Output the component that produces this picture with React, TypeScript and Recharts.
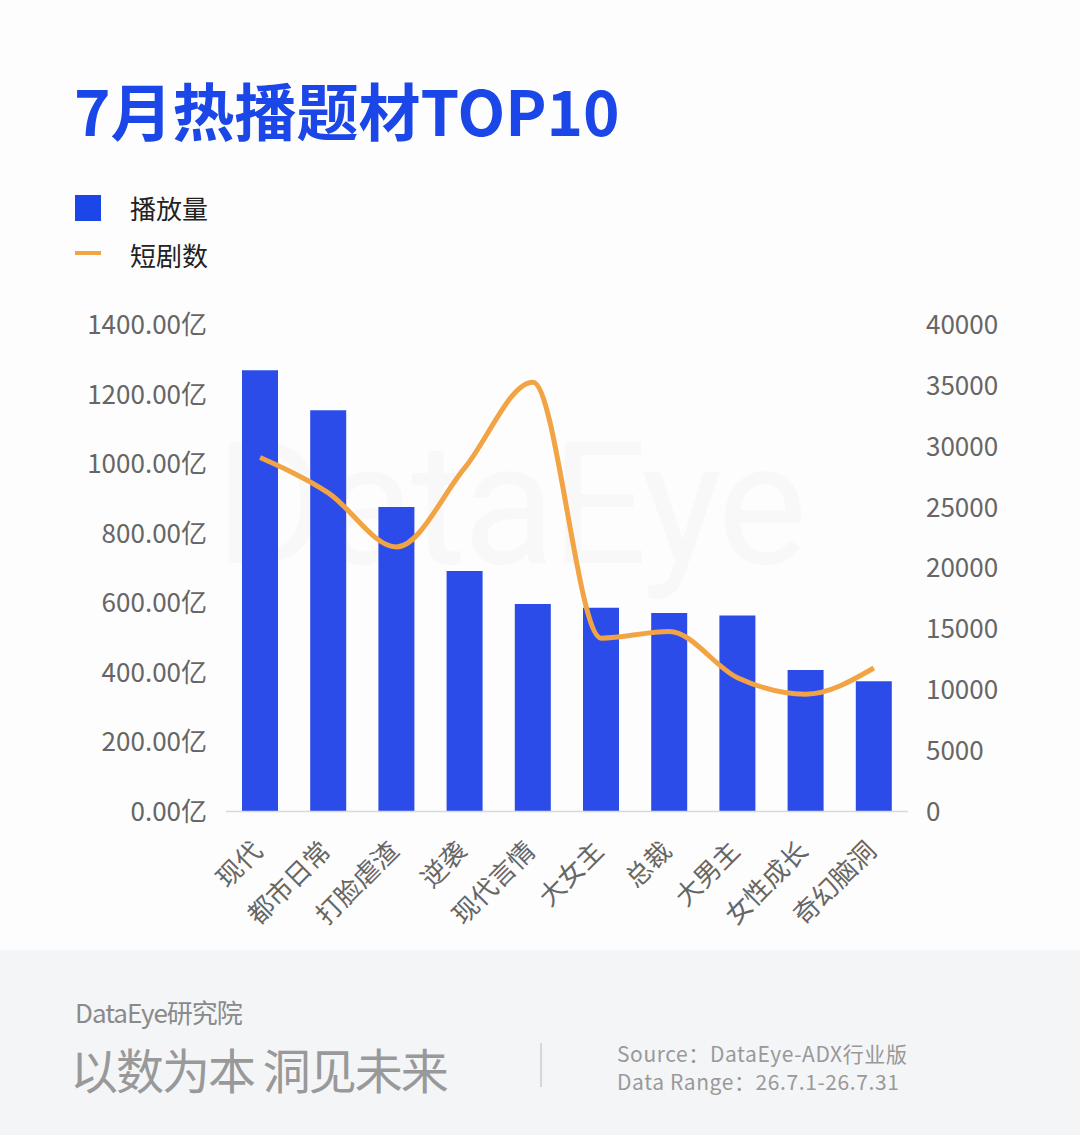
import { ComposedChart, Bar, Line, XAxis, YAxis } from "recharts";

const categories = ["现代", "都市日常", "打脸虐渣", "逆袭", "现代言情", "大女主", "总裁", "大男主", "女性成长", "奇幻脑洞"];
const playVolume = [1270, 1155, 876, 692, 597, 586, 571, 564, 407, 375];
const dramaCount = [29100, 26200, 21750, 28250, 35300, 14250, 14800, 11000, 9650, 11800];
const leftTicks = [0, 200, 400, 600, 800, 1000, 1200, 1400];
const rightTicks = [0, 5000, 10000, 15000, 20000, 25000, 30000, 35000, 40000];

const data = categories.map((name, i) => ({
  name,
  play: playVolume[i],
  count: dramaCount[i],
}));

const BLUE = "#2b4ce8";
const ORANGE = "#f2a444";
const CJK = '"Noto Sans CJK SC", "Noto Sans", sans-serif';

function CategoryTick({ x, y, payload }: any) {
  return (
    <g transform={`translate(${x + 4},${y + 33})`}>
      <text
        transform="rotate(-45)"
        textAnchor="end"
        fontSize={26}
        fill="#666"
        fontFamily={CJK}
      >
        {payload.value}
      </text>
    </g>
  );
}

export default function App() {
  return (
    <div
      style={{
        position: "absolute",
        left: 0,
        top: 0,
        width: 1080,
        height: 1135,
        background: "#fdfdfd",
        overflow: "hidden",
        fontFamily: CJK,
      }}
    >
      {/* faint watermark */}
      <div
        style={{
          position: "absolute",
          left: 215,
          top: 405,
          fontSize: 170,
          fontFamily: "Roboto, sans-serif",
          color: "#f8f8f8",
          letterSpacing: -4,
        }}
      >
        DataEye
      </div>

      <div
        style={{
          position: "absolute",
          left: 74,
          top: 72,
          fontSize: 62,
          fontWeight: 700,
          color: "#1b46e8",
          lineHeight: 1.2,
          whiteSpace: "nowrap",
        }}
      >
        7月热播题材TOP10
      </div>

      <div style={{ position: "absolute", left: 75, top: 195, width: 26, height: 26, background: "#1b46e8" }} />
      <div style={{ position: "absolute", left: 130, top: 190, fontSize: 26, color: "#222", lineHeight: "36px" }}>播放量</div>
      <div style={{ position: "absolute", left: 75, top: 251, width: 26, height: 4, background: ORANGE }} />
      <div style={{ position: "absolute", left: 130, top: 237, fontSize: 26, color: "#222", lineHeight: "36px" }}>短剧数</div>

      <div style={{ position: "absolute", left: 0, top: 0 }}>
        <ComposedChart
          width={1080}
          height={950}
          data={data}
          margin={{ top: 325, right: 0, bottom: 0, left: 0 }}
          barSize={36}
        >
          <XAxis
            dataKey="name"
            interval={0}
            height={138.5}
            tick={<CategoryTick />}
            tickLine={false}
            axisLine={{ stroke: "#d9d9d9", strokeWidth: 1.5 }}
          />
          <YAxis
            yAxisId="play"
            orientation="left"
            width={226}
            domain={[0, 1400]}
            ticks={leftTicks}
            tickFormatter={(v: number) => `${v.toFixed(2)}亿`}
            tick={{ fontSize: 26, fill: "#666", fontFamily: CJK }}
            tickMargin={13}
            axisLine={false}
            tickLine={false}
          />
          <YAxis
            yAxisId="count"
            orientation="right"
            width={172}
            domain={[0, 40000]}
            ticks={rightTicks}
            tick={{ fontSize: 26, fill: "#666", fontFamily: CJK }}
            tickMargin={12}
            axisLine={false}
            tickLine={false}
          />
          <Bar yAxisId="play" dataKey="play" fill={BLUE} isAnimationActive={false} />
          <Line
            yAxisId="count"
            type="monotone"
            dataKey="count"
            stroke={ORANGE}
            strokeWidth={5}
            dot={false}
            activeDot={false}
            isAnimationActive={false}
          />
        </ComposedChart>
      </div>

      <div
        style={{
          position: "absolute",
          left: 0,
          top: 950,
          width: 1080,
          height: 185,
          background: "#f4f5f7",
        }}
      >
        <div style={{ position: "absolute", left: 75, top: 44, fontSize: 26, color: "#8a8a8a", lineHeight: "36px", letterSpacing: -1 }}>
          DataEye研究院
        </div>
        <div style={{ position: "absolute", left: 70, top: 88, fontSize: 48, color: "#999", lineHeight: "60px", letterSpacing: -2, whiteSpace: "nowrap" }}>
          以数为本 洞见未来
        </div>
        <div style={{ position: "absolute", left: 540, top: 93, width: 1.5, height: 44, background: "#d6d6d6" }} />
        <div style={{ position: "absolute", left: 617, top: 91, fontSize: 21, color: "#999", lineHeight: "24px", letterSpacing: 0.6, whiteSpace: "nowrap" }}>
          Source：DataEye-ADX行业版
        </div>
        <div style={{ position: "absolute", left: 617, top: 119, fontSize: 21, color: "#999", lineHeight: "24px", letterSpacing: 0.6, whiteSpace: "nowrap" }}>
          Data Range：26.7.1-26.7.31
        </div>
      </div>
    </div>
  );
}
